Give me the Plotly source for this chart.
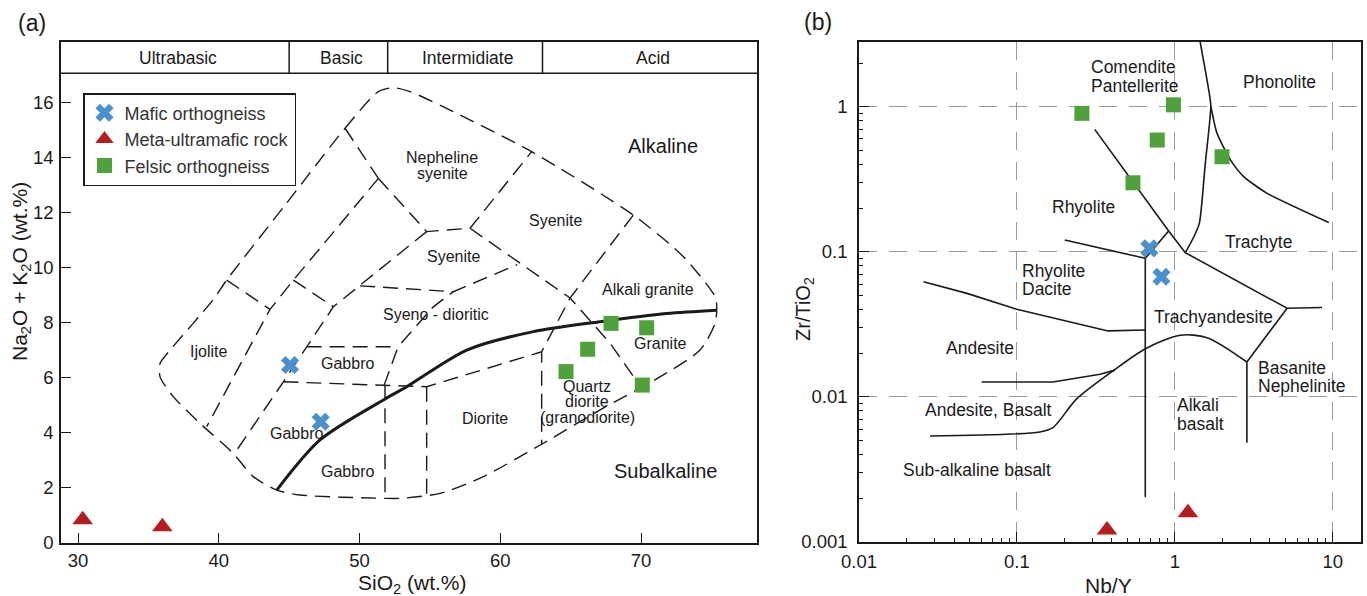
import math
import plotly.graph_objects as go

FONT = "Liberation Sans, Arial, Helvetica, sans-serif"
INK = "#1a1a1a"

# ================= DATA =================
# ---- Panel (a): TAS diagram, SiO2 vs Na2O+K2O (wt.%) ----
mafic_sio2 = [45.06, 47.24]
mafic_alk = [6.46, 4.40]
ultramafic_sio2 = [30.33, 35.99]
ultramafic_alk = [0.84, 0.59]
felsic_sio2 = [67.87, 70.40, 66.21, 64.67, 70.09]
felsic_alk = [7.97, 7.81, 7.03, 6.22, 5.73]

sio2_ticks = [30, 40, 50, 60, 70]
alk_ticks = [0, 2, 4, 6, 8, 10, 12, 14, 16]

class_names = ["Ultrabasic", "Basic", "Intermidiate", "Acid"]
class_edges = [45, 52, 63]

# field boundaries (SiO2, Na2O+K2O)
envelope_sio2 = [44.77, 48.97, 51.34, 52.40, 53.59, 57.14, 62.23, 69.45, 73.01, 75.26, 75.38,
                 75.26, 74.19, 71.35, 67.09, 63.06, 58.80, 55.72, 52.88, 51.81, 45.77, 44.12,
                 42.45, 41.03, 38.67, 36.77, 35.83, 35.83, 36.54, 39.59, 40.56, 44.77]
envelope_alk = [12.30, 15.05, 16.38, 16.52, 16.38, 15.53, 14.20, 11.90, 10.39, 8.94, 8.57,
                7.97, 7.00, 6.03, 4.83, 3.62, 2.41, 1.80, 1.62, 1.62, 1.74, 1.92,
                2.41, 3.25, 4.34, 5.31, 6.03, 6.52, 7.00, 8.82, 9.54, 12.30]
dashed_sio2 = [
    [51.34, 45.30, 43.64, 39.14],
    [40.56, 43.64],
    [48.97, 51.34],
    [51.34, 54.77, 57.85, 62.23],
    [57.85, 64.96, 67.80, 69.93],
    [54.77, 48.14, 44.59, 41.28],
    [45.30, 48.14],
    [46.24, 52.74],
    [51.74, 52.74, 55.24, 56.66],
    [50.04, 56.66, 61.20],
    [44.59, 54.77, 62.94],
    [69.45, 64.96, 62.94, 62.94],
    [51.81, 51.81],
    [54.77, 54.77],
]
dashed_alk = [
    [13.23, 9.54, 8.48, 4.22],
    [9.54, 8.48],
    [15.05, 13.23],
    [13.23, 11.30, 11.42, 14.20],
    [11.42, 8.89, 7.25, 5.70],
    [11.30, 8.57, 5.85, 3.37],
    [9.54, 8.57],
    [7.12, 7.12],
    [5.72, 7.12, 8.57, 9.12],
    [9.33, 9.12, 10.10],
    [5.85, 5.67, 6.94],
    [11.90, 8.89, 6.94, 3.56],
    [5.72, 1.62],
    [5.67, 1.68],
]
alk_line_sio2 = [44.12, 47.19, 51.69, 53.35, 57.62, 62.35, 67.09, 71.83, 75.38]
alk_line_alk = [1.92, 3.74, 5.19, 5.67, 7.00, 7.67, 8.03, 8.33, 8.45]

# ---- Panel (b): Nb/Y vs Zr/TiO2 ----
mafic_nby = [0.690, 0.822]
mafic_zrti = [0.1057, 0.0673]
ultramafic_nby = [0.372, 1.21]
ultramafic_zrti = [0.00121, 0.00159]
felsic_nby = [0.258, 0.98, 0.774, 1.99, 0.543]
felsic_zrti = [0.90, 1.03, 0.589, 0.452, 0.299]

nby_ticks = [0.01, 0.1, 1, 10]
nby_ticktext = ["0.01", "0.1", "1", "10"]
zrti_ticks = [0.001, 0.01, 0.1, 1]
zrti_ticktext = ["0.001", "0.01", "0.1", "1"]

b_lines_nby = [
    [1.43, 1.64, 1.69, 1.56, 1.43, 1.32, 1.166],
    [1.69, 1.85, 2.25, 2.73, 3.84, 9.44],
    [0.311, 0.914, 1.166],
    [0.914, 0.650],
    [0.201, 0.650],
    [0.650, 0.650],
    [1.166, 5.14, 8.55],
    [5.14, 2.86, 2.86],
    [0.0256, 0.0483, 0.0997, 0.336, 0.378, 0.650],
    [0.0598, 0.169, 0.336, 0.418],
]
b_lines_zrti = [
    [3.0, 1.30, 1.01, 0.408, 0.157, 0.127, 0.0986],
    [1.01, 0.656, 0.430, 0.330, 0.253, 0.159],
    [0.698, 0.139, 0.0986],
    [0.139, 0.0902],
    [0.1205, 0.0902],
    [0.0902, 0.00204],
    [0.0986, 0.0408, 0.0413],
    [0.0408, 0.0174, 0.00483],
    [0.0622, 0.0517, 0.0402, 0.0294, 0.0285, 0.0289],
    [0.01268, 0.01268, 0.01432, 0.0153],
]
b_curve_nby = [0.0282, 0.140, 0.169, 0.239, 0.406, 0.647, 1.08, 1.60, 2.86]
b_curve_zrti = [0.00538, 0.00573, 0.00614, 0.00968, 0.0151, 0.0214, 0.0266, 0.0256, 0.0174]
b_phon_index = 1  # curved Phonolite/Trachyte boundary

# field labels
a_labels = [
    (["Ijolite"], 39.26, 6.94),
    (["Gabbro"], 49.16, 6.52),
    (["Gabbro"], 45.49, 3.98),
    (["Gabbro"], 49.16, 2.59),
    (["Syeno - dioritic"], 55.44, 8.30),
    (["Syenite"], 56.66, 10.39),
    (["Syenite"], 63.89, 11.72),
    (["Nepheline", "syenite"], 55.88, 13.69),
    (["Alkali granite"], 70.52, 9.21),
    (["Granite"], 71.35, 7.25),
    (["Quartz", "diorite", "(granodiorite)"], 66.19, 5.13),
    (["Diorite"], 58.92, 4.52),
]
a_series_labels = [("Alkaline", 71.59, 14.42), ("Subalkaline", 71.75, 2.62)]

b_labels = [
    (["Comendite", "Pantellerite"], 0.285, 1.61, "left"),
    (["Phonolite"], 4.59, 1.49, "center"),
    (["Rhyolite"], 0.265, 0.205, "center"),
    (["Trachyte"], 3.37, 0.116, "center"),
    (["Rhyolite", "Dacite"], 0.105, 0.0637, "left"),
    (["Trachyandesite"], 1.76, 0.0357, "center"),
    (["Andesite"], 0.0583, 0.0218, "center"),
    (["Andesite, Basalt"], 0.0659, 0.00809, "center"),
    (["Sub-alkaline basalt"], 0.0556, 0.00312, "center"),
    (["Alkali", "basalt"], 1.006, 0.00759, "left"),
    (["Basanite", "Nephelinite"], 3.28, 0.0137, "left"),
]

# ================= FIGURE =================
W, H = 1367, 596
BLUE, RED, GREEN = "#4A90CD", "#B41E1E", "#50A03C"

fig = go.Figure()

dash_a = "15px,8px"
fig.add_trace(go.Scatter(x=envelope_sio2, y=envelope_alk, mode="lines", xaxis="x", yaxis="y",
                         line=dict(color=INK, width=1.4, dash=dash_a, shape="spline", smoothing=0.7),
                         showlegend=False, hoverinfo="skip"))
for xs, ys in zip(dashed_sio2, dashed_alk):
    fig.add_trace(go.Scatter(x=xs, y=ys, mode="lines", xaxis="x", yaxis="y",
                             line=dict(color=INK, width=1.4, dash=dash_a),
                             showlegend=False, hoverinfo="skip"))
fig.add_trace(go.Scatter(x=alk_line_sio2, y=alk_line_alk, mode="lines", xaxis="x", yaxis="y",
                         line=dict(color=INK, width=3, shape="spline", smoothing=0.8),
                         showlegend=False, hoverinfo="skip"))

for i, (xs, ys) in enumerate(zip(b_lines_nby, b_lines_zrti)):
    shape = "spline" if i in (0, b_phon_index) else "linear"
    fig.add_trace(go.Scatter(x=xs, y=ys, mode="lines", xaxis="x2", yaxis="y2",
                             line=dict(color=INK, width=1.6, shape=shape, smoothing=0.6),
                             showlegend=False, hoverinfo="skip"))
fig.add_trace(go.Scatter(x=b_curve_nby, y=b_curve_zrti, mode="lines", xaxis="x2", yaxis="y2",
                         line=dict(color=INK, width=1.6, shape="spline", smoothing=0.8),
                         showlegend=False, hoverinfo="skip"))

series = [
    ("Mafic orthogneiss", "x", BLUE, 16, mafic_sio2, mafic_alk, mafic_nby, mafic_zrti),
    ("Meta-ultramafic rock", "triangle-up", RED, 18, ultramafic_sio2, ultramafic_alk, ultramafic_nby, ultramafic_zrti),
    ("Felsic orthogneiss", "square", GREEN, 15, felsic_sio2, felsic_alk, felsic_nby, felsic_zrti),
]
for name, sym, col, size, xa, ya, xb, yb in series:
    fig.add_trace(go.Scatter(x=xa, y=ya, mode="markers", name=name, legendgroup=name,
                             xaxis="x", yaxis="y",
                             marker=dict(symbol=sym, color=col, size=size, line=dict(width=0))))
    fig.add_trace(go.Scatter(x=xb, y=yb, mode="markers", name=name, legendgroup=name,
                             showlegend=False, xaxis="x2", yaxis="y2",
                             marker=dict(symbol=sym, color=col, size=size, line=dict(width=0))))

# ---- axes ----
xa_dom = [61 / W, 757 / W]
ya_dom = [1 - 543 / H, 1 - 42 / H]
xb_dom = [859 / W, 1361 / W]
yb_dom = [1 - 542 / H, 1 - 42 / H]
a_xrange = [28.79, 78.24]
a_yrange = [0, 18.18]
header_bottom = 17.05

tickfont = dict(family=FONT, size=18.5, color=INK)
common = dict(showline=True, linecolor=INK, linewidth=1.5, mirror=True, ticks="inside",
              tickcolor=INK, tickwidth=1.3, tickfont=tickfont, zeroline=False, automargin=False)

minor_x = [m * 10 ** k for k in (-2, -1, 0, 1) for m in range(2, 10)]
minor_y = [m * 10 ** k for k in (-3, -2, -1, 0) for m in range(2, 10)]

fig.update_layout(
    width=W, height=H,
    margin=dict(l=0, r=0, t=0, b=0),
    paper_bgcolor="white", plot_bgcolor="white",
    font=dict(family=FONT, color=INK),
    xaxis=dict(domain=xa_dom, range=a_xrange, tickvals=sio2_ticks, ticklen=10,
               showgrid=False, anchor="y", ticklabelstandoff=0, **common),
    yaxis=dict(domain=ya_dom, range=a_yrange, tickvals=alk_ticks, ticklen=10,
               showgrid=False, anchor="x", ticklabelstandoff=2, **common),
    xaxis2=dict(domain=xb_dom, type="log", range=[-2, 1.179], tickvals=nby_ticks,
                ticktext=nby_ticktext, ticklen=10, anchor="y2", ticklabelstandoff=2,
                showgrid=True, gridcolor="#9a9a9a", gridwidth=1.2, griddash="18px,12px",
                minor=dict(tickvals=minor_x, ticks="inside", ticklen=4, tickcolor=INK, showgrid=False),
                **common),
    yaxis2=dict(domain=yb_dom, type="log", range=[-3, 0.446], tickvals=zrti_ticks,
                ticktext=zrti_ticktext, ticklen=10, anchor="x2", ticklabelstandoff=6,
                showgrid=True, gridcolor="#9a9a9a", gridwidth=1.2, griddash="18px,12px",
                minor=dict(tickvals=minor_y, ticks="inside", ticklen=4, tickcolor=INK, showgrid=False),
                **common),
    legend=dict(x=83 / W, y=1 - 93 / H, xanchor="left", yanchor="top",
                bgcolor="white", bordercolor=INK, borderwidth=1.5,
                font=dict(family=FONT, size=18, color="#333"), tracegroupgap=0,
                itemsizing="trace"),
    showlegend=True,
)

fig.add_shape(type="line", xref="x domain", yref="y", x0=0, x1=1, y0=header_bottom, y1=header_bottom,
              line=dict(color=INK, width=1.5))
for e in class_edges:
    fig.add_shape(type="line", xref="x", yref="y", x0=e, x1=e, y0=header_bottom, y1=a_yrange[1],
                  line=dict(color=INK, width=1.5))
bounds = [a_xrange[0]] + class_edges + [a_xrange[1]]
for i, nm in enumerate(class_names):
    fig.add_annotation(x=(bounds[i] + bounds[i + 1]) / 2 + 0.2, y=(header_bottom + a_yrange[1]) / 2,
                       xref="x", yref="y", text=nm, showarrow=False,
                       font=dict(family=FONT, size=17.5, color=INK))


def add_block(lines, x, y, xref, yref, size, spacing, xanchor="center"):
    n = len(lines)
    for i, line in enumerate(lines):
        fig.add_annotation(x=x, y=y, xref=xref, yref=yref, text=line, showarrow=False,
                           xanchor=xanchor, yanchor="middle", align=xanchor,
                           yshift=((n - 1) / 2 - i) * spacing,
                           font=dict(family=FONT, size=size, color=INK))


for lines, x, y in a_labels:
    add_block(lines, x, y, "x", "y", 16, 15.5)
for txt, x, y in a_series_labels:
    add_block([txt], x, y, "x", "y", 20, 0)
for lines, x, y, anc in b_labels:
    add_block(lines, math.log10(x), math.log10(y), "x2", "y2", 17.5, 18.5, anc)


def paper_text(text, px, py, size, angle=0):
    fig.add_annotation(x=px / W, y=1 - py / H, xref="paper", yref="paper", text=text,
                       showarrow=False, textangle=angle, xanchor="center", yanchor="middle",
                       font=dict(family=FONT, size=size, color=INK))


paper_text("SiO<sub>2</sub> (wt.%)", 412, 584, 21)
paper_text("Na<sub>2</sub>O + K<sub>2</sub>O (wt.%)", 21, 272, 21, -90)
paper_text("Nb/Y", 1108, 585, 21)
paper_text("Zr/TiO<sub>2</sub>", 805, 309, 20, -90)
paper_text("(a)", 32, 23, 23)
paper_text("(b)", 818, 22, 23)

fig.write_html("out.html")
